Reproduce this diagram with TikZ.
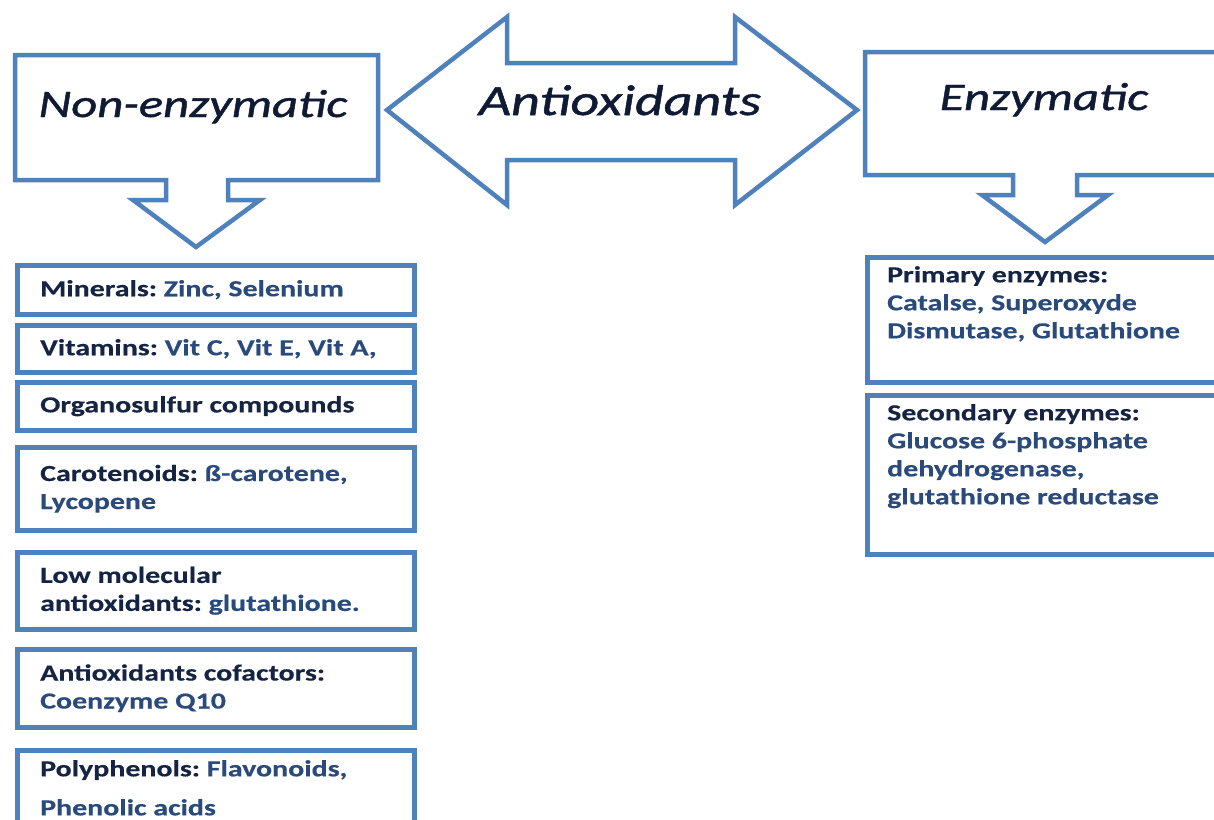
\documentclass[tikz,border=0pt]{standalone}
\usepackage{fontspec}
\setmainfont{Carlito}[FakeStretch=1.3, FakeBold=0.4]
\newfontfamily\titlefont{Carlito}[FakeStretch=1.3, FakeBold=1.2]
\usepackage{xcolor}
\usepackage{tikz}

\definecolor{shapeblue}{RGB}{79,129,189}
\definecolor{titlenavy}{RGB}{16,26,52}
\definecolor{labelnavy}{RGB}{22,36,68}
\definecolor{valueblue}{RGB}{42,74,124}
\newcommand{\boxlabel}[1]{\textcolor{labelnavy}{#1}}
\frenchspacing

\begin{document}
\begin{tikzpicture}[x=1pt,y=-1pt]
        % Define styles
        \tikzset{
            callout/.style={draw=shapeblue, line width=4.5pt, line join=miter, fill=white},
            title/.style={font=\titlefont\fontsize{39}{47}\selectfont\itshape, text=titlenavy, inner sep=0pt},
            listbox/.style={rectangle, draw=shapeblue, line width=4.5pt, anchor=north west, inner sep=0pt},
            listtext/.style={align=left, font=\fontsize{23}{28}\selectfont\bfseries, text=valueblue, inner sep=0pt}
        }

        \useasboundingbox (0,0) rectangle (1214,819);
        \clip (0,0) rectangle (1214,819);

        % Callouts
        \draw[callout] (15,55) -- (378,55) -- (378,180) -- (228,180) -- (228,200) -- (260,200)
            -- (196,247) -- (133,200) -- (166,200) -- (166,180) -- (15,180) -- cycle;
        \draw[callout] (387,110) -- (507,17) -- (507,63) -- (735,63) -- (735,17) -- (857,110)
            -- (735,205) -- (735,160) -- (507,160) -- (507,205) -- cycle;
        \draw[callout] (865,52) -- (1240,52) -- (1240,175) -- (1077,175) -- (1077,195) -- (1108,195)
            -- (1045,242) -- (982,195) -- (1013,195) -- (1013,175) -- (865,175) -- cycle;

        % Titles
        \node[title, anchor=base] (title_nonenz) at (193,117) {Non-enzymatic};
        \node[title, anchor=base, font=\titlefont\fontsize{43}{50}\selectfont\itshape] (title_antiox) at (620,115) {Antioxidants};
        \node[title, anchor=base] (title_enz) at (1044,110) {Enzymatic};

        % Non-enzymatic boxes
        \node[listbox, minimum width=397pt, minimum height=49pt] (box_minerals) at (15,263) {};
        \node[listbox, minimum width=397pt, minimum height=47pt] (box_vitamins) at (15,323) {};
        \node[listbox, minimum width=397pt, minimum height=48pt] (box_organo) at (15,380) {};
        \node[listbox, minimum width=397pt, minimum height=83pt] (box_carot) at (15,445) {};
        \node[listbox, minimum width=397pt, minimum height=77pt] (box_lowmol) at (15,550) {};
        \node[listbox, minimum width=397pt, minimum height=78pt] (box_cofact) at (15,647) {};
        \node[listbox, minimum width=397pt, minimum height=90pt] (box_polyph) at (15,748) {};

        \node[listtext, anchor=west] (txt_minerals) at ([xshift=25pt]box_minerals.west) {\boxlabel{Minerals:} Zinc, Selenium};
        \node[listtext, anchor=west] (txt_vitamins) at ([xshift=25pt]box_vitamins.west) {\boxlabel{Vitamins:} Vit C, Vit E, Vit A,};
        \node[listtext, anchor=west] (txt_organo) at ([xshift=25pt]box_organo.west) {\boxlabel{Organosulfur compounds}};
        \node[listtext, anchor=west] (txt_carot) at ([xshift=25pt]box_carot.west) {\boxlabel{Carotenoids:} ß-carotene,\\ Lycopene};
        \node[listtext, anchor=west] (txt_lowmol) at ([xshift=25pt]box_lowmol.west) {\boxlabel{Low molecular}\\ \boxlabel{antioxidants:} glutathione.};
        \node[listtext, anchor=west] (txt_cofact) at ([xshift=25pt]box_cofact.west) {\boxlabel{Antioxidants cofactors:}\\ Coenzyme Q10};
        \node[listtext, anchor=north west] (txt_polyph) at ([xshift=25pt,yshift=-12pt]box_polyph.north west) {\boxlabel{Polyphenols:} Flavonoids,\\[11pt] Phenolic acids};

        % Enzymatic boxes
        \node[listbox, minimum width=380pt, minimum height=125pt] (box_primary) at (865,255) {};
        \node[listbox, minimum width=380pt, minimum height=159pt] (box_second) at (865,393) {};

        \node[listtext, anchor=north west] (txt_primary) at ([xshift=22pt,yshift=-11pt]box_primary.north west)
            {\boxlabel{Primary enzymes:}\\ Catalse, Superoxyde\\ Dismutase, Glutathione};
        \node[listtext, anchor=north west] (txt_second) at ([xshift=22pt,yshift=-11pt]box_second.north west)
            {\boxlabel{Secondary enzymes:}\\ Glucose 6-phosphate\\ dehydrogenase,\\ glutathione reductase};
    \end{tikzpicture}
\end{document}
